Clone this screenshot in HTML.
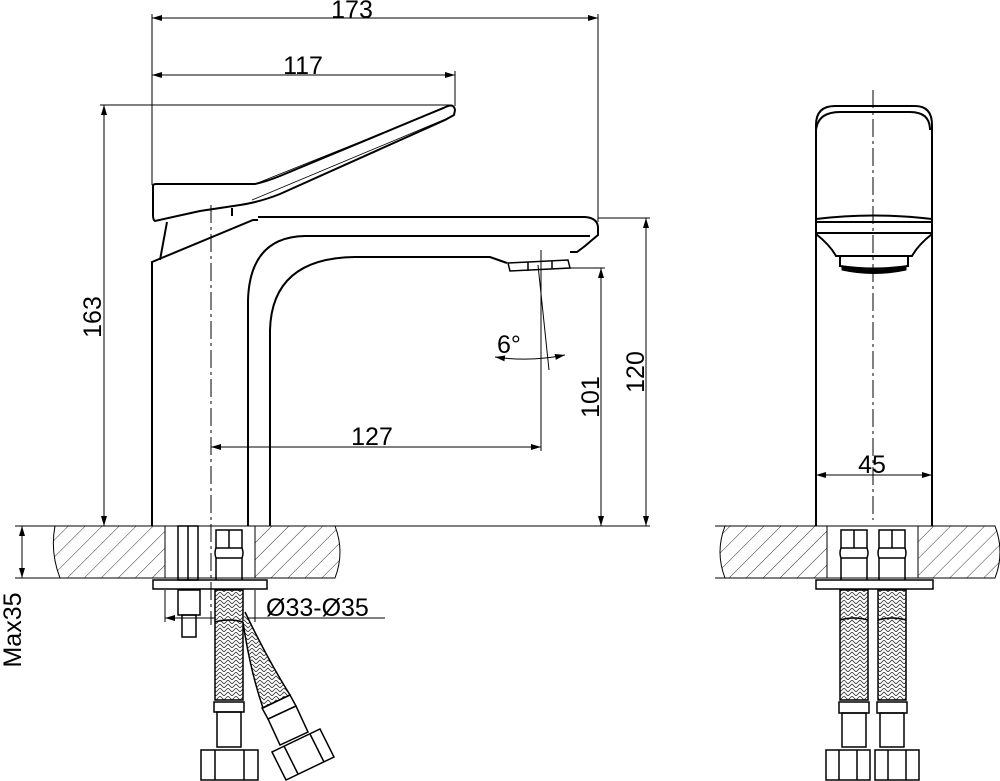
<!DOCTYPE html>
<html><head><meta charset="utf-8"><style>
html,body{margin:0;padding:0;background:#fff}
svg{display:block}
text{font-family:"Liberation Sans",sans-serif;font-size:25px;fill:#000}
</style></head><body>
<svg width="1000" height="781" viewBox="0 0 1000 781" xmlns="http://www.w3.org/2000/svg">
<defs>
<pattern id="h" width="12" height="12" patternUnits="userSpaceOnUse" patternTransform="rotate(45)">
<rect width="12" height="12" fill="#fff"/><line x1="0" y1="0" x2="0" y2="12" stroke="#000" stroke-width="0.8"/></pattern>
<pattern id="b" width="8" height="8" patternUnits="userSpaceOnUse">
<rect width="8" height="8" fill="#fff"/><path d="M0,4 L4,0 L8,4 M0,8 L4,4 L8,8" stroke="#333" stroke-width="0.8" fill="none"/></pattern>
<marker id="a" markerWidth="10" markerHeight="6" refX="10" refY="3" orient="auto-start-reverse"><path d="M0,0 L10,3 L0,6" fill="#000"/></marker>
</defs>
<g stroke="#000" fill="none" stroke-width="1">
<!-- dims -->
<line x1="152" y1="18" x2="598" y2="18" marker-start="url(#a)" marker-end="url(#a)"/>
<line x1="152" y1="14" x2="152" y2="185"/><line x1="598" y1="14" x2="598" y2="222"/>
<line x1="152" y1="75" x2="455" y2="75" marker-start="url(#a)" marker-end="url(#a)"/>
<line x1="455" y1="71" x2="455" y2="106"/>
<line x1="100" y1="105" x2="452" y2="105"/>
<line x1="104" y1="105" x2="104" y2="526" marker-start="url(#a)" marker-end="url(#a)"/>
<line x1="15" y1="526" x2="650" y2="526"/>
<line x1="598" y1="218" x2="650" y2="218"/><line x1="570" y1="268" x2="605" y2="268"/>
<line x1="601" y1="268" x2="601" y2="526" marker-start="url(#a)" marker-end="url(#a)"/>
<line x1="646" y1="218" x2="646" y2="526" marker-start="url(#a)" marker-end="url(#a)"/>
<line x1="211" y1="447" x2="541" y2="447" marker-start="url(#a)" marker-end="url(#a)"/>
<line x1="541" y1="250" x2="541" y2="451"/><line x1="538" y1="265" x2="549" y2="370"/>
<path d="M495,357 Q530,362 565,355" marker-start="url(#a)" marker-end="url(#a)"/>
<line x1="211" y1="205" x2="211" y2="625" stroke-dasharray="18,4,3,4"/>
<!-- faucet body -->
<g stroke-width="2">
<path d="M152,526 V262 L253,220 H258"/>
<path d="M167,222 L160,260"/>
<path d="M153,186 Q153,184 156,184 H255 Q265,182 280,176 L448,106 Q454,104 455,110 L454,115 L445,120 L280,194 Q260,202 240,205 L200,211 L155,221 Q153,220 153,215 Z"/>
<path d="M255,184 L445,108 M252,200 L448,118" stroke-width="0.8"/>
<path d="M232,208 V216"/>
<path d="M258,217 H585 Q598,218 598,228 V235 Q592,240 585,246 L577,252 H570"/>
<path d="M248,526 V300 Q250,237 305,236 H590"/>
<path d="M270,526 V330 Q272,258 355,257 H490 L507,263"/>
<path d="M508,263 L568,260 L570,268 L510,271 Z M528,262 V271 M552,261 V269" stroke-width="1.5"/>
</g>
<!-- countertop left -->
<path d="M55,526 H165 V578 H60 Q50,552 55,526 Z" fill="url(#h)"/>
<path d="M255,526 H335 Q345,552 335,578 H255 Z" fill="url(#h)"/>
<line x1="15" y1="578" x2="335" y2="578"/>
<line x1="22" y1="526" x2="22" y2="578" marker-start="url(#a)" marker-end="url(#a)"/>
<rect x="153" y="580" width="114" height="9" stroke-width="1.5"/>
<g stroke-width="1.5">
<rect x="178" y="526" width="20" height="54"/><line x1="188" y1="526" x2="188" y2="580"/>
<rect x="178" y="590" width="22" height="25"/><rect x="182" y="615" width="14" height="22"/>
<rect x="216" y="530" width="26" height="18"/><line x1="229" y1="530" x2="229" y2="548"/>
<path d="M216,548 Q214,553 216,558 H242 Q244,553 242,548 M216,558 V580 M242,558 V580"/>
</g>
<line x1="165" y1="590" x2="165" y2="622"/><line x1="255" y1="590" x2="255" y2="622"/>
<line x1="165" y1="618" x2="385" y2="618" marker-start="url(#a)"/>
<!-- hoses left -->
<g stroke-width="1.5">
<rect x="215" y="590" width="28" height="110" fill="url(#b)"/>
<path d="M215,622 Q229,618 243,622" stroke="#000"/>
<rect x="214" y="702" width="30" height="10"/><rect x="217" y="712" width="24" height="35"/>
<path d="M201,750 H258 V780 H201 Z M215,750 V780 M244,750 V780"/>
<path d="M243,622 Q250,670 263,708 L290,695 Q268,660 245,612" fill="url(#b)"/>
<path d="M262,708 L290,695 L296,706 L268,719 Z"/>
<path d="M268,719 L296,706 L308,732 L280,745 Z"/>
<path d="M272,752 L286,780 L334,757 L320,729 Z M284,746 L298,774 M310,734 L324,762"/>
</g>
<!-- right view -->
<g stroke-width="2">
<path d="M816,526 V125 Q816,106 835,106 H915 Q932,106 932,125 V526"/>
<path d="M816,130 Q818,112 840,112 H910 Q930,112 930,130"/>
<line x1="816" y1="222" x2="932" y2="222"/><path d="M816,219 Q874,212 932,219"/>
<line x1="816" y1="233" x2="932" y2="233"/>
<path d="M816,234 Q830,245 836,256 H912 Q918,245 932,234"/>
<path d="M840,256 V266 Q874,271 908,266 V256"/>
</g>
<path d="M842,266 Q874,274 906,266 L906,270 Q874,277 842,270 Z" fill="#000"/>
<line x1="873" y1="90" x2="873" y2="520" stroke-dasharray="18,4,3,4"/>
<line x1="816" y1="475" x2="932" y2="475" marker-start="url(#a)" marker-end="url(#a)"/>
<path d="M725,526 H827 V578 H725 Q715,552 725,526 Z" fill="url(#h)"/>
<path d="M918,526 H995 Q1005,552 995,578 H918 Z" fill="url(#h)"/>
<line x1="715" y1="526" x2="995" y2="526"/><line x1="715" y1="578" x2="995" y2="578"/>
<rect x="816" y="580" width="117" height="9" stroke-width="1.5"/>
<g stroke-width="1.5">
<rect x="841" y="530" width="26" height="18"/><line x1="854" y1="530" x2="854" y2="548"/>
<rect x="879" y="530" width="26" height="18"/><line x1="892" y1="530" x2="892" y2="548"/>
<path d="M841,548 Q839,553 841,558 H867 Q869,553 867,548 M841,558 V580 M867,558 V580"/>
<path d="M879,548 Q877,553 879,558 H905 Q907,553 905,548 M879,558 V580 M905,558 V580"/>
<rect x="840" y="590" width="28" height="110" fill="url(#b)"/><rect x="878" y="590" width="28" height="110" fill="url(#b)"/>
<path d="M840,620 Q854,616 868,620 M878,620 Q892,616 906,620"/>
<rect x="839" y="702" width="30" height="11"/><rect x="842" y="713" width="24" height="34"/>
<rect x="877" y="702" width="30" height="11"/><rect x="880" y="713" width="24" height="34"/>
<path d="M826,750 H870 V780 H826 Z M839,750 V780 M857,750 V780"/>
<path d="M875,750 H919 V780 H875 Z M888,750 V780 M906,750 V780"/>
</g>
</g>
<text x="352" y="18" text-anchor="middle">173</text>
<text x="303" y="74" text-anchor="middle">117</text>
<text x="372" y="445" text-anchor="middle">127</text>
<text x="497" y="353">6°</text>
<text x="872" y="473" text-anchor="middle">45</text>
<text x="266" y="616">Ø33-Ø35</text>
<text transform="translate(101,317) rotate(-90)" text-anchor="middle">163</text>
<text transform="translate(599,397) rotate(-90)" text-anchor="middle">101</text>
<text transform="translate(644,372) rotate(-90)" text-anchor="middle">120</text>
<text transform="translate(21,630) rotate(-90)" text-anchor="middle">Max35</text>
</svg>
</body></html>
